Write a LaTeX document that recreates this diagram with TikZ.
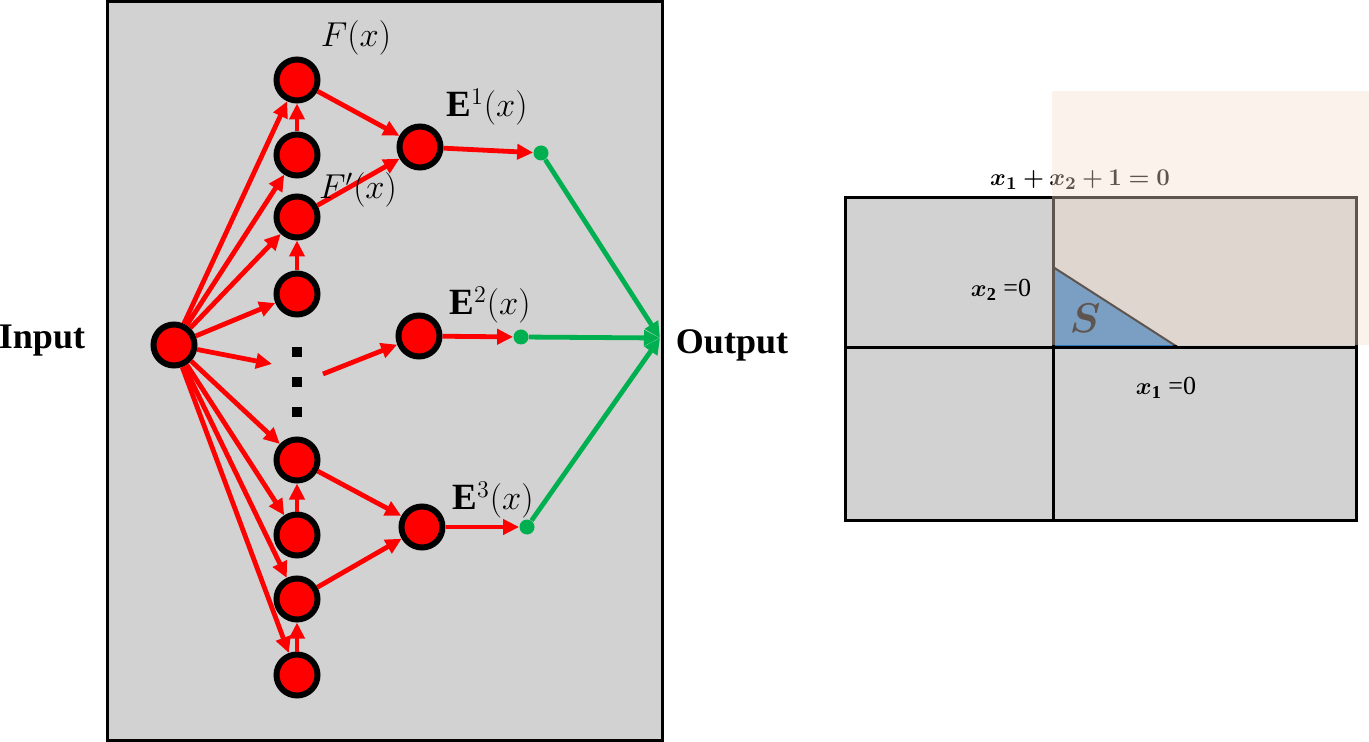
\documentclass[tikz,border=0pt]{standalone}
\usepackage{fontspec}
\setmainfont{Liberation Serif}
\usepackage{amsmath}
\usepackage{bm}
\usepackage{tikz}
\usetikzlibrary{arrows.meta, positioning}
\definecolor{panelgray}{RGB}{210,210,210}
\definecolor{nnred}{RGB}{255,0,0}
\definecolor{nngreen}{RGB}{0,176,80}
\definecolor{peach}{RGB}{245,221,206}
\definecolor{sblue}{RGB}{46,119,189}

\begin{document}
\begin{tikzpicture}[
  x=0.5pt, y=-0.5pt,
  neuron/.style={circle, draw=black, line width=3pt, fill=nnred,
    minimum size=20.5pt, inner sep=0pt},
  gate/.style={circle, fill=nngreen, minimum size=7.5pt, inner sep=0pt},
  link/.style={draw=nnred, line width=2.4pt,
    -{Triangle[length=8pt, width=7.5pt]}},
  outlink/.style={draw=nngreen, line width=2.4pt,
    -{Triangle[length=8pt, width=7.5pt]}},
  mlabel/.style={font=\fontsize{18.5}{21}\selectfont, inner sep=0pt},
  side/.style={font=\fontsize{18}{21}\selectfont\bfseries, inner sep=0pt},
  eqlabel/.style={font=\fontsize{13}{15}\selectfont, inner sep=0pt},
  grid/.style={draw=black, line width=1.5pt}
]
\useasboundingbox (0,0) rectangle (1369,742);

% Network panel
\draw[fill=panelgray, line width=1.5pt] (107,2) rectangle (662,740);

% Neurons
\node[neuron] (in) at (174,345) {};
\node[neuron] (a1) at (297,80) {};
\node[neuron] (a2) at (297,155) {};
\node[neuron] (a3) at (297,217) {};
\node[neuron] (a4) at (297,294) {};
\node[neuron] (b1) at (297,460) {};
\node[neuron] (b2) at (297,535) {};
\node[neuron] (b3) at (297,599) {};
\node[neuron] (b4) at (297,675) {};
\node[neuron] (e1) at (420,147) {};
\node[neuron] (e2) at (419,336) {};
\node[neuron] (e3) at (422,527) {};

% Gates and output point
\node[gate] (g1) at (541,153) {};
\node[gate] (g2) at (521,337) {};
\node[gate] (g3) at (527,527) {};
\coordinate (out) at (660,338);

% Dots
\foreach \y in {352,382,412}
  \fill (292,\y-5) rectangle (302,\y+5);
\coordinate (dotin) at (272,364);
\coordinate (dotout) at (323,374);

% Input fan-out
\foreach \n in {a1,a2,a3,a4,b1,b2,b3,b4}
  \draw[link] (in) -- (\n);
\draw[link] (in) -- (dotin);

% Column links
\draw[link] (a2) -- (a1);
\draw[link] (a4) -- (a3);
\draw[link] (b2) -- (b1);
\draw[link] (b4) -- (b3);

% Expert links
\draw[link] (a1) -- (e1);
\draw[link] (a3) -- (e1);
\draw[link] (dotout) -- (e2);
\draw[link] (b1) -- (e3);
\draw[link] (b3) -- (e3);
\draw[link] (e1) -- (g1);
\draw[link] (e2) -- (g2);
\draw[link] (e3) -- (g3);

% Gate to output
\draw[outlink] (g1) -- (out);
\draw[outlink] (g2) -- (out);
\draw[outlink] (g3) -- (out);

% Labels
\node[mlabel] (lF) at (356,38) {$F(x)$};
\node[mlabel] (lFp) at (358,190) {$F'(x)$};
\node[mlabel] (lE1) at (487,107) {$\mathbf{E}^1(x)$};
\node[mlabel] (lE2) at (490,305) {$\mathbf{E}^2(x)$};
\node[mlabel] (lE3) at (493,500) {$\mathbf{E}^3(x)$};
\node[side] (input) at (42,341) {Input};
\node[side] (output) at (732,345) {Output};

% Region panel
\fill[panelgray] (845,198) rectangle (1356,520);
\fill[sblue] (1053,267) -- (1053,348) -- (1179,348) -- cycle;
\draw[line width=1pt] (1053,267) -- (1179,348);
\draw[grid] (845,198) rectangle (1356,520);
\draw[grid] (1053,198) -- (1053,520);
\draw[grid] (845,348) -- (1356,348);
\node[font=\fontsize{22}{25}\selectfont, inner sep=0pt] (S) at (1085,318)
  {$\bm{S}$};
\node[eqlabel] (l0) at (1080,180) {$\bm{x_1+x_2+1=0}$};
\node[eqlabel] (l2) at (1001,290) {$\bm{x}_{\mathbf{2}}$ =0};
\node[eqlabel] (l1) at (1166,388) {$\bm{x}_{\mathbf{1}}$ =0};

% Half-plane overlay
\fill[peach, fill opacity=0.39] (1052,91) rectangle (1369,345);

\end{tikzpicture}
\end{document}
